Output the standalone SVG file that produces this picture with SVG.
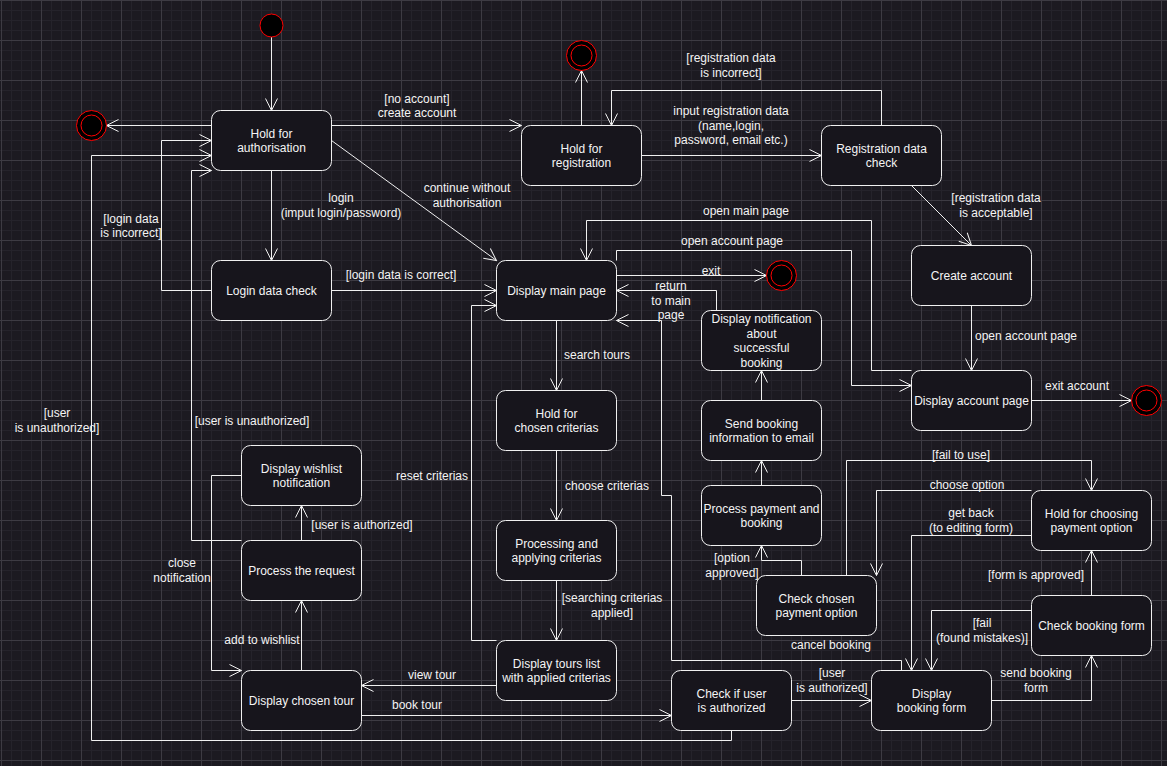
<svg xmlns="http://www.w3.org/2000/svg" width="1167" height="766" viewBox="0 0 1167 766">
  <defs>
    <pattern id="grid" patternUnits="userSpaceOnUse" x="1" y="0" width="40" height="40">
      <rect width="40" height="40" fill="#1c1a21"/>
      <g fill="#25232b">
        <rect x="10" y="0" width="1" height="40"/>
        <rect x="20" y="0" width="1" height="40"/>
        <rect x="30" y="0" width="1" height="40"/>
        <rect x="0" y="10" width="40" height="1"/>
        <rect x="0" y="20" width="40" height="1"/>
        <rect x="0" y="30" width="40" height="1"/>
      </g>
      <g fill="#3d3b43">
        <rect x="0" y="0" width="1" height="40"/>
        <rect x="0" y="0" width="40" height="1"/>
      </g>
    </pattern>
    <marker id="open" viewBox="-13 -7 14 14" refX="0" refY="0" markerWidth="14" markerHeight="14" markerUnits="userSpaceOnUse" orient="auto">
      <path d="M-12,-6 L0,0 L-12,6" fill="none" stroke="#f0f0f0" stroke-width="1"/>
    </marker>
    <style>
      .node rect { fill: #17151c; stroke: #f0f0f0; stroke-width: 1; }
      .node text, .lbl { font-family: "Liberation Sans", Arial, sans-serif; font-size: 12px; fill: #f4f4f4; text-anchor: middle; }
      .edges path { fill: none; stroke: #f0f0f0; stroke-width: 1; marker-end: url(#open); }
      .start { fill: #000000; stroke: #ff0000; stroke-width: 1; }
      .final circle { fill: #000000; stroke: #ff0000; stroke-width: 1; }
    </style>
  </defs>

  <rect width="1167" height="766" fill="url(#grid)"/>

  <!-- connectors -->
  <g id="connectors" class="edges">
    <path d="M271.5,37 V110.5"/>
    <path d="M211.5,125.5 H106.5"/>
    <path d="M331.5,125.5 H521.5"/>
    <path d="M271.5,170.5 V260.5"/>
    <path d="M331.5,140.5 L496.5,260.5"/>
    <path d="M581.5,125.5 V70.5"/>
    <path d="M641.5,155.5 H821.5"/>
    <path d="M881.5,125.5 V90.5 H611.5 V125.5"/>
    <path d="M911.5,185.5 L971.5,245.5"/>
    <path d="M971.5,305.5 V370.5"/>
    <path d="M1031.5,400.5 H1131.5"/>
    <path d="M911.5,370.5 H871.5 V220.5 H586.5 V260.5"/>
    <path d="M616.5,260.5 V250.5 H851.5 V385.5 H911.5"/>
    <path d="M616.5,275.5 H766.5"/>
    <path d="M331.5,290.5 H496.5"/>
    <path d="M211.5,290.5 H161.5 V140.5 H211.5"/>
    <path d="M716.5,310.5 V290.5 H616.5"/>
    <path d="M901.5,670.5 V660.5 H671.5 V495.5 H661.5 V320.5 H616.5"/>
    <path d="M556.5,320.5 V390.5"/>
    <path d="M556.5,450.5 V520.5"/>
    <path d="M556.5,580.5 V640.5"/>
    <path d="M496.5,640.5 H471.5 V305.5 H496.5"/>
    <path d="M496.5,685.5 H361.5"/>
    <path d="M361.5,715.5 H671.5"/>
    <path d="M301.5,670.5 V600.5"/>
    <path d="M301.5,540.5 V505.5"/>
    <path d="M241.5,475.5 H211.5 V670.5 H241.5"/>
    <path d="M241.5,540.5 H191.5 V170.5 H211.5"/>
    <path d="M731.5,730.5 V740.5 H91.5 V155.5 H211.5"/>
    <path d="M791.5,700.5 H871.5"/>
    <path d="M991.5,700.5 H1091.5 V655.5"/>
    <path d="M1091.5,595.5 V550.5"/>
    <path d="M1031.5,610.5 H931.5 V670.5"/>
    <path d="M1031.5,535.5 H911.5 V670.5"/>
    <path d="M1031.5,490.5 H876.5 V575.5"/>
    <path d="M846.5,575.5 V460.5 H1091.5 V490.5"/>
    <path d="M801.5,575.5 V560.5 H761.5 V545.5"/>
    <path d="M761.5,485.5 V460.5"/>
    <path d="M761.5,400.5 V370.5"/>
  </g>

  <!-- connector labels -->
  <g id="labels" class="lbl">
    <text class="lbl" x="417" y="102.5">[no account]</text>
    <text class="lbl" x="417" y="117">create account</text>
    <text class="lbl" x="341" y="202">login</text>
    <text class="lbl" x="341" y="216.5">(imput login/password)</text>
    <text class="lbl" x="131" y="222.5">[login data</text>
    <text class="lbl" x="131" y="237">is incorrect]</text>
    <text class="lbl" x="467" y="192">continue without</text>
    <text class="lbl" x="467" y="206.5">authorisation</text>
    <text class="lbl" x="731" y="62">[registration data</text>
    <text class="lbl" x="731" y="76.5">is incorrect]</text>
    <text class="lbl" x="731" y="115">input registration data</text>
    <text class="lbl" x="731" y="129.5">(name,login,</text>
    <text class="lbl" x="731" y="144">password, email etc.)</text>
    <text class="lbl" x="996" y="202">[registration data</text>
    <text class="lbl" x="996" y="216.5">is acceptable]</text>
    <text class="lbl" x="746" y="214.5">open main page</text>
    <text class="lbl" x="732" y="244.5">open account page</text>
    <text class="lbl" x="401" y="279">[login data is correct]</text>
    <text class="lbl" x="711" y="274.5">exit</text>
    <text class="lbl" x="671" y="290">return</text>
    <text class="lbl" x="671" y="304.5">to main</text>
    <text class="lbl" x="671" y="319">page</text>
    <text class="lbl" x="597" y="358.5">search tours</text>
    <text class="lbl" x="607" y="489.5">choose criterias</text>
    <text class="lbl" x="432" y="479.5">reset criterias</text>
    <text class="lbl" x="1026" y="339.5">open account page</text>
    <text class="lbl" x="1077" y="389.5">exit account</text>
    <text class="lbl" x="57" y="417">[user</text>
    <text class="lbl" x="57" y="431.5">is unauthorized]</text>
    <text class="lbl" x="252" y="424.5">[user is unauthorized]</text>
    <text class="lbl" x="362" y="529">[user is authorized]</text>
    <text class="lbl" x="182" y="567">close</text>
    <text class="lbl" x="182" y="581.5">notification</text>
    <text class="lbl" x="262" y="643.5">add to wishlist</text>
    <text class="lbl" x="432" y="679">view tour</text>
    <text class="lbl" x="417" y="709">book tour</text>
    <text class="lbl" x="612" y="602">[searching criterias</text>
    <text class="lbl" x="612" y="616.5">applied]</text>
    <text class="lbl" x="732" y="562">[option</text>
    <text class="lbl" x="732" y="576.5">approved]</text>
    <text class="lbl" x="961" y="459">[fail to use]</text>
    <text class="lbl" x="967" y="489">choose option</text>
    <text class="lbl" x="971" y="517">get back</text>
    <text class="lbl" x="971" y="531.5">(to editing form)</text>
    <text class="lbl" x="1036" y="579">[form is approved]</text>
    <text class="lbl" x="982" y="627">[fail</text>
    <text class="lbl" x="982" y="641.5">(found mistakes)]</text>
    <text class="lbl" x="831" y="648.5">cancel booking</text>
    <text class="lbl" x="832" y="677">[user</text>
    <text class="lbl" x="832" y="691.5">is authorized]</text>
    <text class="lbl" x="1036" y="677">send booking</text>
    <text class="lbl" x="1036" y="691.5">form</text>
  </g>

  <!-- pseudo states -->
  <g id="start"><circle class="start" cx="271.5" cy="25.5" r="11.5"/></g>
  <g id="end-auth" class="final"><circle cx="91.5" cy="125.5" r="15"/><circle cx="91.5" cy="125.5" r="10.5"/></g>
  <g id="end-reg" class="final"><circle cx="581.5" cy="55.5" r="15"/><circle cx="581.5" cy="55.5" r="10.5"/></g>
  <g id="end-main" class="final"><circle cx="781.5" cy="275.5" r="15"/><circle cx="781.5" cy="275.5" r="10.5"/></g>
  <g id="end-account" class="final"><circle cx="1146.5" cy="400.5" r="15"/><circle cx="1146.5" cy="400.5" r="10.5"/></g>

  <!-- states -->
  <g id="hold-auth" class="node"><rect x="211.5" y="110.5" width="120" height="60" rx="9"/>
    <text x="271.5" y="137.5">Hold for</text><text x="271.5" y="152">authorisation</text></g>
  <g id="login-check" class="node"><rect x="211.5" y="260.5" width="120" height="60" rx="9"/>
    <text x="271.5" y="294.5">Login data check</text></g>
  <g id="hold-reg" class="node"><rect x="521.5" y="125.5" width="120" height="60" rx="9"/>
    <text x="581.5" y="152.5">Hold for</text><text x="581.5" y="167">registration</text></g>
  <g id="reg-check" class="node"><rect x="821.5" y="125.5" width="120" height="60" rx="9"/>
    <text x="881.5" y="152.5">Registration data</text><text x="881.5" y="167">check</text></g>
  <g id="create-account" class="node"><rect x="911.5" y="245.5" width="120" height="60" rx="9"/>
    <text x="971.5" y="279.5">Create account</text></g>
  <g id="account-page" class="node"><rect x="911.5" y="370.5" width="120" height="60" rx="9"/>
    <text x="971.5" y="404.5">Display account page</text></g>
  <g id="main-page" class="node"><rect x="496.5" y="260.5" width="120" height="60" rx="9"/>
    <text x="556.5" y="294.5">Display main page</text></g>
  <g id="booking-notice" class="node"><rect x="701.5" y="310.5" width="120" height="60" rx="9"/>
    <text x="761.5" y="323">Display notification</text><text x="761.5" y="337.5">about</text>
    <text x="761.5" y="352">successful</text><text x="761.5" y="366.5">booking</text></g>
  <g id="send-email" class="node"><rect x="701.5" y="400.5" width="120" height="60" rx="9"/>
    <text x="761.5" y="427.5">Send booking</text><text x="761.5" y="442">information to email</text></g>
  <g id="process-payment" class="node"><rect x="701.5" y="485.5" width="120" height="60" rx="9"/>
    <text x="761.5" y="512.5">Process payment and</text><text x="761.5" y="527">booking</text></g>
  <g id="hold-criteria" class="node"><rect x="496.5" y="390.5" width="120" height="60" rx="9"/>
    <text x="556.5" y="417.5">Hold for</text><text x="556.5" y="432">chosen criterias</text></g>
  <g id="apply-criteria" class="node"><rect x="496.5" y="520.5" width="120" height="60" rx="9"/>
    <text x="556.5" y="547.5">Processing and</text><text x="556.5" y="562">applying criterias</text></g>
  <g id="tours-list" class="node"><rect x="496.5" y="640.5" width="120" height="60" rx="9"/>
    <text x="556.5" y="667.5">Display tours list</text><text x="556.5" y="682">with applied criterias</text></g>
  <g id="wishlist-notice" class="node"><rect x="241.5" y="445.5" width="120" height="60" rx="9"/>
    <text x="301.5" y="472.5">Display wishlist</text><text x="301.5" y="487">notification</text></g>
  <g id="process-request" class="node"><rect x="241.5" y="540.5" width="120" height="60" rx="9"/>
    <text x="301.5" y="574.5">Process the request</text></g>
  <g id="chosen-tour" class="node"><rect x="241.5" y="670.5" width="120" height="60" rx="9"/>
    <text x="301.5" y="704.5">Display chosen tour</text></g>
  <g id="check-user" class="node"><rect x="671.5" y="670.5" width="120" height="60" rx="9"/>
    <text x="731.5" y="697.5">Check if user</text><text x="731.5" y="712">is authorized</text></g>
  <g id="booking-form" class="node"><rect x="871.5" y="670.5" width="120" height="60" rx="9"/>
    <text x="931.5" y="697.5">Display</text><text x="931.5" y="712">booking form</text></g>
  <g id="check-payment" class="node"><rect x="756.5" y="575.5" width="120" height="60" rx="9"/>
    <text x="816.5" y="602.5">Check chosen</text><text x="816.5" y="617">payment option</text></g>
  <g id="hold-payment" class="node"><rect x="1031.5" y="490.5" width="120" height="60" rx="9"/>
    <text x="1091.5" y="517.5">Hold for choosing</text><text x="1091.5" y="532">payment option</text></g>
  <g id="check-form" class="node"><rect x="1031.5" y="595.5" width="120" height="60" rx="9"/>
    <text x="1091.5" y="629.5">Check booking form</text></g>
</svg>
